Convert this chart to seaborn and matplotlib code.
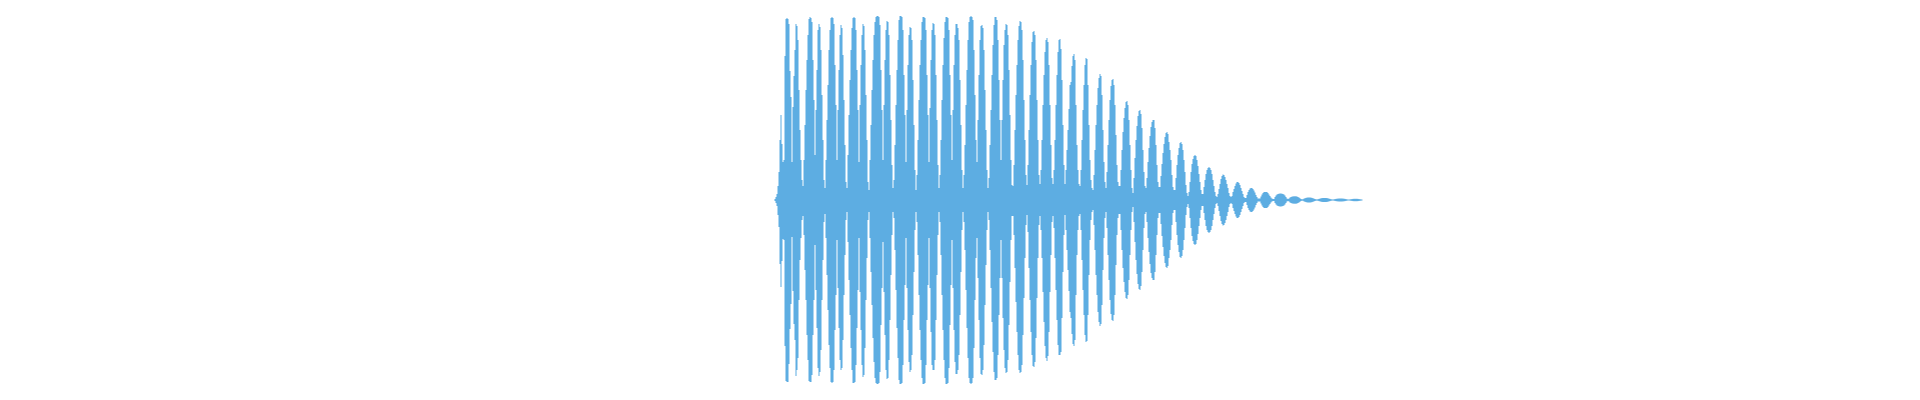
import numpy as np
import matplotlib
matplotlib.use("Agg")
import matplotlib.pyplot as plt
import seaborn as sns

# Per-pixel-column peak envelope of the waveform (pixel units, 184 ~ full scale)
# Section A: sustained, beating part (upper and lower peaks read separately)
upper_a = [
    1, 3, 6, 14, 28, 60, 85, 56, 38, 40,
    144, 181, 182, 181, 176, 129, 103, 38, 93, 124,
    150, 176, 174, 160, 110, 70, 40, 20, 14, 40,
    75, 110, 140, 165, 181, 183, 182, 178, 140, 100,
    45, 90, 130, 170, 176, 173, 150, 105, 60, 20,
    12, 40, 80, 115, 150, 170, 182, 183, 182, 176,
    135, 95, 40, 90, 130, 165, 175, 172, 145, 100,
    55, 18, 12, 45, 85, 120, 150, 172, 182, 183,
    182, 170, 130, 90, 38, 95, 135, 165, 176, 174,
    150, 105, 60, 18, 10, 40, 75, 110, 140, 165,
    178, 183, 184, 184, 183, 175, 130, 90, 40, 95,
    140, 170, 179, 178, 165, 125, 80, 35, 12, 20,
    55, 95, 130, 160, 180, 184, 184, 183, 170, 125,
    85, 38, 90, 135, 165, 173, 172, 160, 120, 75,
    30, 10, 25, 60, 100, 135, 160, 178, 183, 183,
    182, 170, 125, 85, 38, 92, 140, 170, 177, 176,
    165, 125, 80, 35, 12, 25, 60, 100, 135, 162,
    178, 183, 183, 182, 170, 125, 85, 40, 90, 135,
    165, 176, 176, 172, 160, 120, 75, 30, 12, 25,
    55, 95, 130, 160, 178, 183, 184, 183, 180, 150,
    105, 60, 38, 80, 125, 160, 174, 175, 172, 150,
    110, 70, 30, 12, 22, 55, 90, 125, 155, 175,
    183, 183, 180, 160, 120, 80, 40, 80, 120, 155,
    170, 176, 175, 165, 130, 85, 40, 15, 14, 35,
    70, 105, 135, 160, 174, 179, 178, 170, 140, 100,
    60, 25, 15, 35, 70, 105, 135, 158, 168, 169,
    165, 140, 100, 60, 25, 16, 30, 60, 95, 125,
    148, 160, 162, 158, 135, 95, 55, 22, 16, 30,
    60, 95, 125, 148, 160, 161, 151, 120, 75, 35,
    16, 30, 50, 70, 91, 115,
]
lower_a = [
    1, 3, 6, 15, 27, 64, 87, 61, 39, 40,
    146, 181, 182, 182, 164, 129, 104, 37, 91, 124,
    140, 176, 170, 158, 100, 60, 38, 20, 16, 35,
    70, 100, 135, 160, 181, 182, 182, 175, 135, 100,
    45, 90, 128, 168, 176, 172, 150, 100, 60, 22,
    14, 38, 75, 110, 145, 168, 182, 183, 182, 170,
    130, 95, 40, 88, 128, 160, 170, 168, 140, 95,
    55, 20, 12, 42, 80, 115, 148, 170, 183, 183,
    182, 165, 128, 90, 38, 92, 130, 165, 177, 175,
    148, 100, 58, 20, 12, 38, 72, 105, 138, 162,
    178, 183, 184, 184, 183, 172, 125, 88, 42, 92,
    135, 170, 179, 178, 160, 120, 75, 35, 12, 18,
    50, 90, 128, 158, 180, 184, 184, 183, 165, 120,
    85, 38, 88, 130, 162, 172, 170, 155, 115, 72,
    30, 12, 22, 55, 95, 130, 160, 178, 184, 184,
    183, 165, 120, 85, 38, 88, 132, 165, 170, 170,
    160, 120, 75, 35, 12, 22, 55, 95, 130, 160,
    178, 184, 184, 183, 168, 125, 85, 40, 88, 130,
    162, 174, 174, 170, 155, 115, 72, 30, 12, 22,
    50, 90, 128, 158, 178, 183, 184, 183, 178, 148,
    100, 58, 38, 78, 120, 158, 174, 175, 170, 145,
    105, 65, 30, 12, 20, 50, 88, 122, 152, 172,
    180, 180, 178, 155, 115, 78, 40, 78, 118, 150,
    168, 173, 172, 160, 125, 82, 40, 16, 16, 35,
    68, 102, 132, 155, 170, 173, 172, 165, 135, 98,
    58, 25, 15, 32, 68, 100, 132, 155, 166, 167,
    162, 138, 98, 58, 25, 16, 30, 58, 92, 122,
    146, 158, 161, 156, 132, 92, 55, 22, 16, 28,
    58, 90, 120, 145, 155, 155, 152, 118, 72, 35,
    15, 30, 50, 70, 91, 112,
]
# Section B: decaying tail (symmetric envelope)
envelope_b = [
    118, 134, 144, 146, 140, 95, 55, 30, 16, 14,
    30, 60, 90, 115, 135, 142, 141, 115, 75, 40, 20, 12, 10,
    25, 50, 75, 95, 112, 122, 126, 124, 105, 70, 38, 18, 12,
    28, 55, 80, 100, 114, 120, 121, 115, 95, 65, 35, 18, 14, 14,
    30, 50, 68, 82, 92, 98, 99, 95, 80, 55, 30, 12, 7,
    22, 42, 60, 74, 84, 89, 90, 86, 72, 50, 28, 14, 12,
    22, 38, 52, 64, 73, 78, 80, 80, 72, 55, 35, 18, 13, 13,
    24, 36, 47, 56, 63, 67, 68, 66, 58, 50, 40, 25, 13, 10,
    10, 22, 35, 45, 52, 57, 58, 56, 50, 40, 28, 15, 7, 4,
    8, 18, 28, 36, 41, 44, 45, 44, 40, 34, 26, 18, 10, 6,
    6, 13, 20, 26, 30, 32, 33, 32, 30, 26, 20, 14, 8, 4, 3,
    6, 11, 16, 21, 24, 25.5, 25, 23, 20, 16, 12, 7, 4, 3,
    4, 8, 11, 14, 16.5, 18, 18, 17, 15, 12, 9, 6, 3, 2,
    2, 5, 8, 10, 11.5, 12, 12, 11, 9.5, 7.5, 5, 3, 1.5, 1.5,
    1.5, 3.5, 5.5, 7, 8, 8, 8, 8, 7, 5.5, 4, 2.5, 1.5,
    1, 1, 3, 4.5, 5.5, 6, 6.3, 6.5, 6.5, 6.3, 6, 5.5, 4.5, 3, 1.5, 1,
    1.5, 2.5, 3, 3.4, 3.6, 3.7, 3.7, 3.7, 3.5, 3, 2.5, 1.8, 1, 0.7,
    0.8, 1.4, 1.8, 2.1, 2.4, 2.5, 2.5, 2.5, 2.4, 2.1, 1.8, 1.4, 1, 0.7, 0.6,
    0.8, 1.1, 1.4, 1.7, 1.9, 2, 2, 2, 2, 1.9, 1.7, 1.4, 1.1, 0.8, 0.6, 0.5,
    0.7, 0.9, 1.1, 1.3, 1.4, 1.5, 1.5, 1.5, 1.5, 1.4, 1.3, 1.1, 0.9, 0.7, 0.5,
    0.5, 0.6, 0.8, 0.9, 1.1, 1.2, 1.2, 1.2, 1.2, 1.1, 0.9, 0.8, 0.6, 0.5,
]

WAVE_COLOR = "#5DADE2"

sns.set_theme(style="white")

upper = np.array(upper_a + envelope_b, dtype=float)
lower = np.array(lower_a + envelope_b, dtype=float)
n = len(upper)
cols = np.arange(n + 1)
up_step = np.append(upper, upper[-1])
lo_step = np.append(lower, lower[-1])

fig = plt.figure(figsize=(19.2, 4.0), dpi=100)
fig.patch.set_facecolor("white")
ax = fig.add_axes([0, 0, 1, 1])
ax.fill_between(cols, -lo_step, up_step, step="post", color=WAVE_COLOR,
                linewidth=0)
# layout: the waveform starts at pixel column 774 of a 1920 px wide canvas
offset = 774
ax.set_xlim(-offset, 1920 - offset)
ax.set_ylim(-200.5, 199.5)
ax.axis("off")
sns.despine(left=True, bottom=True)
fig.savefig("out.png", dpi=100, facecolor="white")
